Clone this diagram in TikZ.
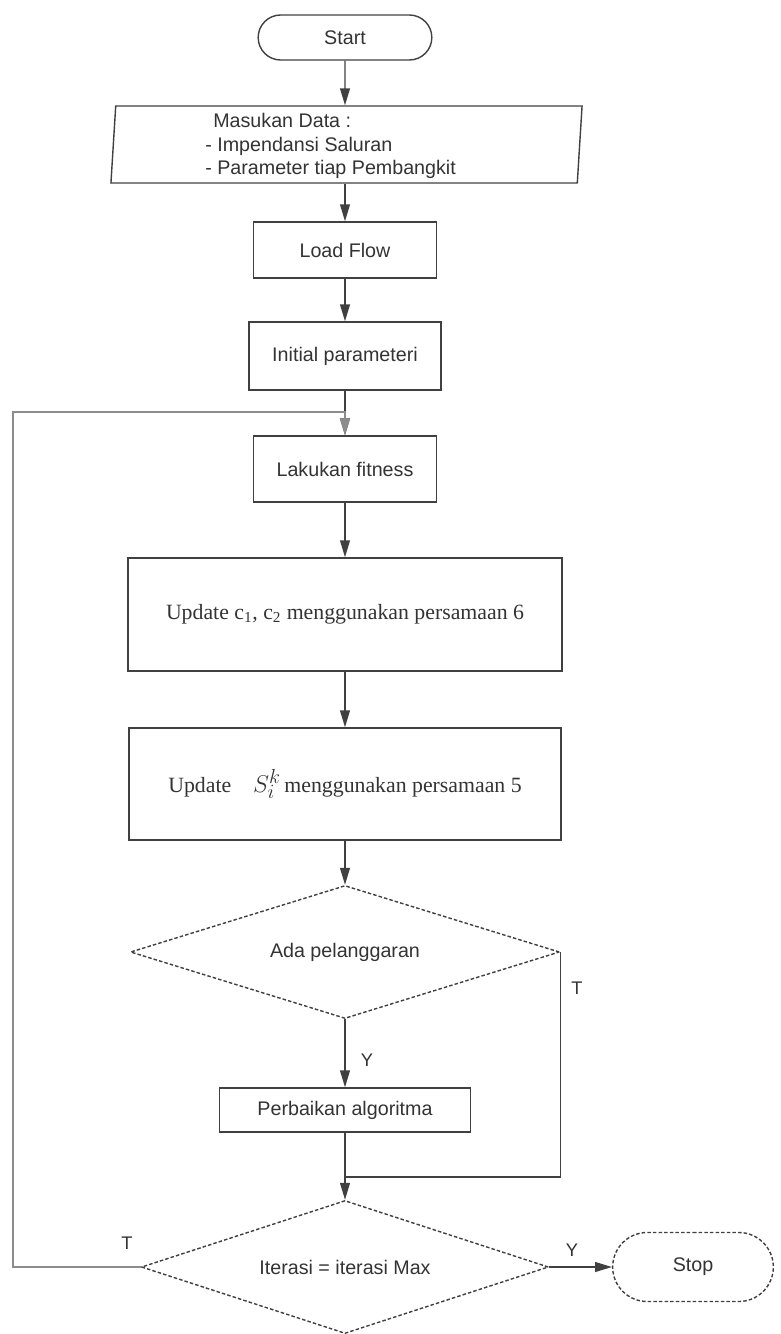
\documentclass[tikz,border=0pt]{standalone}
\usepackage{fontspec}
\setmainfont{Liberation Serif}
\setsansfont{Liberation Sans}
\usetikzlibrary{arrows.meta,positioning,shapes.geometric,shapes.misc}

\definecolor{scanline}{gray}{0.25}
\definecolor{scanfaint}{gray}{0.55}
\definecolor{scantext}{gray}{0.2}

\tikzset{
  proc/.style={draw=scanline, line width=1pt, rectangle, text=scantext,
    font=\sffamily\fontsize{14}{17}\selectfont},
  procserif/.style={proc, font=\rmfamily\fontsize{15.5}{18}\selectfont},
  term/.style={proc, rounded rectangle},
  decide/.style={proc, diamond, aspect=3.2, inner sep=0pt, dash pattern=on 2.5pt off 1.5pt},
  flow/.style={draw=scanline, line width=1pt, -{Triangle[length=12pt,width=7pt]}},
  link/.style={draw=scanline, line width=1pt},
  tag/.style={font=\sffamily\fontsize{13}{15}\selectfont, text=scantext}
}

\begin{document}
\begin{tikzpicture}[x=0.025cm,y=-0.025cm]
\useasboundingbox (0,0) rectangle (781,1334);

% blocks, top to bottom
\node[term, minimum width=4.575cm, minimum height=1.125cm] (start) at (345,37.5) {Start};
\node[proc, trapezium, trapezium left angle=63, trapezium right angle=117,
  trapezium stretches body, minimum width=11.775cm, minimum height=1.925cm] (data) at (346.5,144.5) {};
\node[anchor=west, inner sep=0pt, align=left, font=\sffamily\fontsize{14}{16.5}\selectfont, text=scantext]
  (datatext) at (205,146)
  {\hspace*{0.2cm}Masukan Data :\\- Impendansi Saluran\\- Parameter tiap Pembangkit};
\node[proc, minimum width=4.575cm, minimum height=1.4cm] (load) at (345,250) {Load Flow};
\node[proc, minimum width=4.8cm, minimum height=1.7cm] (init) at (345,356) {Initial parameteri};
\node[proc, minimum width=4.575cm, minimum height=1.65cm] (fit) at (345,469) {Lakukan fitness};
\node[procserif, minimum width=10.85cm, minimum height=2.825cm] (upc) at (345,614.5)
  {Update c\textsubscript{1}, c\textsubscript{2} menggunakan persamaan 6};
\node[procserif, minimum width=10.8cm, minimum height=2.8cm] (ups) at (345,784)
  {Update\quad{\fontsize{19}{20}\selectfont$S_i^k$}\,menggunakan persamaan 5};
\node[decide, minimum width=10.725cm, minimum height=3.325cm] (d1) at (345,952) {Ada pelanggaran};
\node[proc, minimum width=6.275cm, minimum height=1.1cm] (fix) at (345,1110) {Perbaikan algoritma};
\node[decide, minimum width=10.175cm, minimum height=3.325cm] (d2) at (345,1267) {Iterasi = iterasi Max};
\node[term, dash pattern=on 2.5pt off 1.5pt, minimum width=4.25cm, minimum height=1.725cm]
  (stop) at (693,1267) {Stop};

% connectors
\draw[flow] (start) -- (start |- data.north);
\draw[flow] (start |- data.south) -- (load);
\draw[flow] (load) -- (init);
\draw[flow] (init) -- (fit);
\draw[flow] (fit) -- (upc);
\draw[flow] (upc) -- (ups);
\draw[flow] (ups) -- (d1);
\draw[flow] (d1) -- (fix);
\node[tag] (yes1) at (367,1060) {Y};
\draw[flow] (fix) -- (d2);
\coordinate (merge) at (345,1177);
\draw[link] (d1.east) |- (merge);
\node[tag] (no1) at (577,988) {T};
\draw[flow] (d2.east) -- (stop);
\node[tag] (yes2) at (572,1250) {Y};
\coordinate (back) at (13,412);
\draw[flow, draw=scanfaint] (d2.west) -| (back) -- (back -| fit.north) -- (fit.north);
\node[tag] (no2) at (127,1243) {T};
\end{tikzpicture}
\end{document}
